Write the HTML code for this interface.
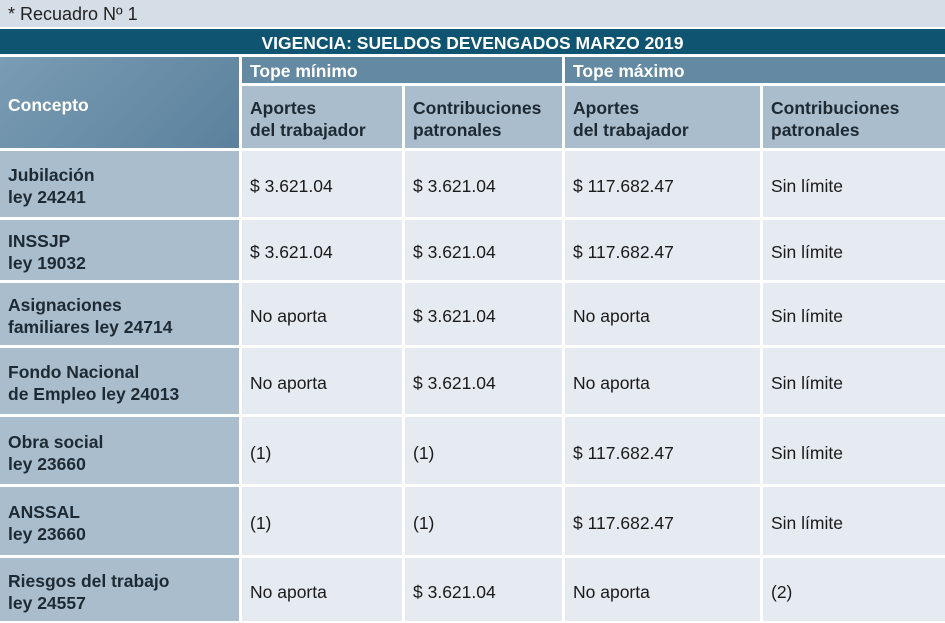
<!DOCTYPE html>
<html><head><meta charset="utf-8"><style>
body{margin:0;width:945px;height:623px;background:#fff;position:relative;overflow:hidden;font-family:"Liberation Sans",sans-serif;}
.c{position:absolute;box-sizing:border-box;display:flex;align-items:center;padding-left:8px;padding-top:4px;font-size:17.5px;color:#1a1a1a;line-height:22px;}
.k{background:#a9bdcd;font-weight:bold;color:#1e2a33;}
.d{background:#e6ebf1;}
.h{background:#a9bdcd;font-weight:bold;color:#1e2a33;}
.t{background:#6489a3;color:#fff;font-weight:bold;padding-top:1px;}
</style></head><body>
<div class="c" style="left:0;top:0;width:945px;height:27px;background:#d5dee6;font-size:18px;color:#222;padding-top:0;">* Recuadro Nº 1</div>
<div class="c" style="left:0;top:29px;width:945px;height:25px;background:#0f5470;color:#fff;font-weight:bold;justify-content:center;padding:2px 0 0 0;">VIGENCIA: SUELDOS DEVENGADOS MARZO 2019</div>
<div class="c" style="left:0;top:57px;width:239px;height:91px;background:linear-gradient(135deg,#7a9cb4,#5b819c);color:#fff;font-weight:bold;">Concepto</div>
<div class="c t" style="left:242px;top:57px;width:320px;height:26px;">Tope mínimo</div>
<div class="c t" style="left:565px;top:57px;width:380px;height:26px;">Tope máximo</div>
<div class="c h" style="left:242px;top:86px;width:160px;height:62px;">Aportes<br>del trabajador</div>
<div class="c h" style="left:405px;top:86px;width:157px;height:62px;">Contribuciones<br>patronales</div>
<div class="c h" style="left:565px;top:86px;width:195px;height:62px;">Aportes<br>del trabajador</div>
<div class="c h" style="left:763px;top:86px;width:182px;height:62px;">Contribuciones<br>patronales</div>

<div class="c k" style="left:0;top:151px;width:239px;height:66px;">Jubilación<br>ley 24241</div>
<div class="c d" style="left:242px;top:151px;width:160px;height:66px;">$ 3.621.04</div>
<div class="c d" style="left:405px;top:151px;width:157px;height:66px;">$ 3.621.04</div>
<div class="c d" style="left:565px;top:151px;width:195px;height:66px;">$ 117.682.47</div>
<div class="c d" style="left:763px;top:151px;width:182px;height:66px;">Sin límite</div>

<div class="c k" style="left:0;top:220px;width:239px;height:60px;">INSSJP<br>ley 19032</div>
<div class="c d" style="left:242px;top:220px;width:160px;height:60px;">$ 3.621.04</div>
<div class="c d" style="left:405px;top:220px;width:157px;height:60px;">$ 3.621.04</div>
<div class="c d" style="left:565px;top:220px;width:195px;height:60px;">$ 117.682.47</div>
<div class="c d" style="left:763px;top:220px;width:182px;height:60px;">Sin límite</div>

<div class="c k" style="left:0;top:283px;width:239px;height:62px;">Asignaciones<br>familiares ley 24714</div>
<div class="c d" style="left:242px;top:283px;width:160px;height:62px;">No aporta</div>
<div class="c d" style="left:405px;top:283px;width:157px;height:62px;">$ 3.621.04</div>
<div class="c d" style="left:565px;top:283px;width:195px;height:62px;">No aporta</div>
<div class="c d" style="left:763px;top:283px;width:182px;height:62px;">Sin límite</div>

<div class="c k" style="left:0;top:348px;width:239px;height:66px;">Fondo Nacional<br>de Empleo ley 24013</div>
<div class="c d" style="left:242px;top:348px;width:160px;height:66px;">No aporta</div>
<div class="c d" style="left:405px;top:348px;width:157px;height:66px;">$ 3.621.04</div>
<div class="c d" style="left:565px;top:348px;width:195px;height:66px;">No aporta</div>
<div class="c d" style="left:763px;top:348px;width:182px;height:66px;">Sin límite</div>

<div class="c k" style="left:0;top:417px;width:239px;height:67px;">Obra social<br>ley 23660</div>
<div class="c d" style="left:242px;top:417px;width:160px;height:67px;">(1)</div>
<div class="c d" style="left:405px;top:417px;width:157px;height:67px;">(1)</div>
<div class="c d" style="left:565px;top:417px;width:195px;height:67px;">$ 117.682.47</div>
<div class="c d" style="left:763px;top:417px;width:182px;height:67px;">Sin límite</div>

<div class="c k" style="left:0;top:487px;width:239px;height:68px;">ANSSAL<br>ley 23660</div>
<div class="c d" style="left:242px;top:487px;width:160px;height:68px;">(1)</div>
<div class="c d" style="left:405px;top:487px;width:157px;height:68px;">(1)</div>
<div class="c d" style="left:565px;top:487px;width:195px;height:68px;">$ 117.682.47</div>
<div class="c d" style="left:763px;top:487px;width:182px;height:68px;">Sin límite</div>

<div class="c k" style="left:0;top:558px;width:239px;height:63px;">Riesgos del trabajo<br>ley 24557</div>
<div class="c d" style="left:242px;top:558px;width:160px;height:63px;">No aporta</div>
<div class="c d" style="left:405px;top:558px;width:157px;height:63px;">$ 3.621.04</div>
<div class="c d" style="left:565px;top:558px;width:195px;height:63px;">No aporta</div>
<div class="c d" style="left:763px;top:558px;width:182px;height:63px;">(2)</div>
</body></html>
